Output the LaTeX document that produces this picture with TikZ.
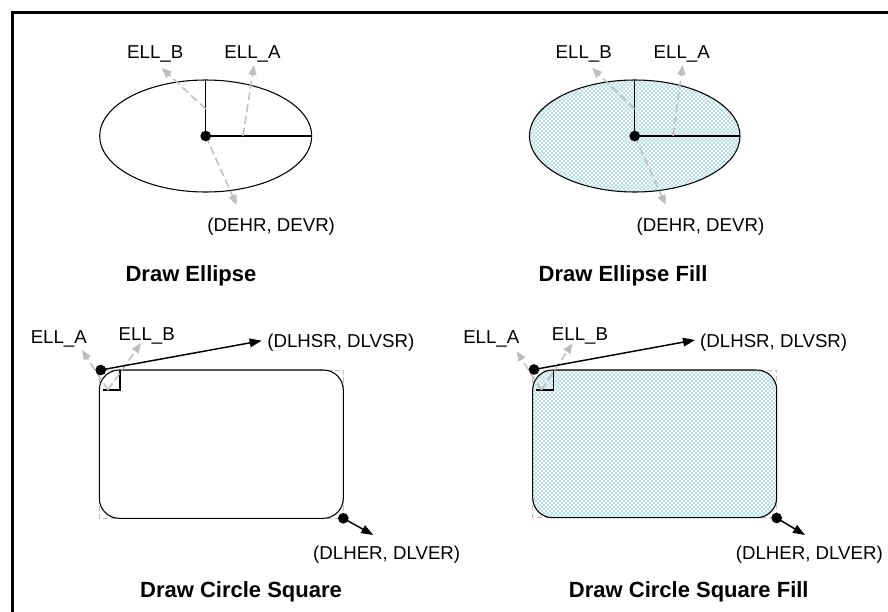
\documentclass[tikz,border=0pt]{standalone}
\usepackage{fontspec}
\setmainfont{Liberation Sans}
\usetikzlibrary{arrows.meta,patterns}
\definecolor{hatchbase}{RGB}{180,222,228}
\definecolor{guide}{RGB}{190,190,190}
\begin{document}
\begin{tikzpicture}[x=0.75pt,y=-0.75pt,
  lbl/.style={font=\fontsize{14}{16}\selectfont, inner sep=0pt, anchor=base},
  ttl/.style={font=\fontsize{16.5}{20}\selectfont\bfseries, inner sep=0pt, anchor=base},
  shapeline/.style={draw=black, line width=0.8pt},
  axisline/.style={draw=black, line width=1.1pt},
  guidearrow/.style={draw=guide, line width=1.1pt, dash pattern=on 6pt off 3pt, -{Triangle[length=7.5pt,width=6pt]}},
  ptrarrow/.style={draw=black, line width=1.1pt, -{Triangle[length=9pt,width=6.5pt]}},
  bboxline/.style={draw=guide, line width=0.6pt, dash pattern=on 4pt off 2pt},
  hatched/.style={fill=hatchbase, postaction={pattern=north east lines, pattern color=white}, postaction={pattern=north west lines, pattern color=white}},
  hdot/.style={circle, fill=black, inner sep=0pt, minimum size=8pt}
]
\path[use as bounding box, clip] (0,0) rectangle (888,611);
\fill[white] (0,0) rectangle (888,611);
% frame
\draw[line width=2.25pt] (12.3,12.3) rectangle (930,650);

% ===== Top-left: Draw Ellipse =====
\coordinate (tlc) at (205.7,136);
\draw[shapeline] (tlc) ellipse [x radius=106, y radius=56];
\coordinate (tltop) at (205.7,80);
\coordinate (tlright) at (311.7,136);
\draw[axisline] (tlc) -- (tltop);
\draw[axisline] (tlc) -- (tlright);
\coordinate (tlbs) at (205.7,109);
\coordinate (tlbt) at (161.7,68);
\coordinate (tlas) at (243,136);
\coordinate (tlat) at (254,65);
\coordinate (tldt) at (236.7,205);
\draw[guidearrow] (tlbs) -- (tlbt);
\draw[guidearrow] (tlas) -- (tlat);
\draw[guidearrow] (tlc) -- (tldt);
\node[hdot] (tldot) at (tlc) {};
\node[lbl] (tlellb) at (155.2,58.3) {ELL\_B};
\node[lbl] (tlella) at (252.5,58.3) {ELL\_A};
\node[lbl] (tldehr) at (271.2,231.7) {(DEHR, DEVR)};
\node[ttl] (tltitle) at (191,281) {Draw Ellipse};

% ===== Top-right: Draw Ellipse Fill =====
\coordinate (trc) at (634.7,136);
\path[hatched] (trc) ellipse [x radius=105.3, y radius=56];
\draw[shapeline] (trc) ellipse [x radius=105.3, y radius=56];
\coordinate (trtop) at (634.7,80);
\coordinate (trright) at (740,136);
\draw[axisline] (trc) -- (trtop);
\draw[axisline] (trc) -- (trright);
\coordinate (trbs) at (634.7,109);
\coordinate (trbt) at (592,68);
\coordinate (tras) at (673,136);
\coordinate (trat) at (682.7,65);
\coordinate (trdt) at (665.7,205);
\draw[guidearrow] (trbs) -- (trbt);
\draw[guidearrow] (tras) -- (trat);
\draw[guidearrow] (trc) -- (trdt);
\node[hdot] (trdot) at (trc) {};
\node[lbl] (trellb) at (583.7,58.3) {ELL\_B};
\node[lbl] (trella) at (681.7,58.3) {ELL\_A};
\node[lbl] (trdehr) at (700.5,231.7) {(DEHR, DEVR)};
\node[ttl] (trtitle) at (623,281) {Draw Ellipse Fill};

% ===== Bottom-left: Draw Circle Square =====
\draw[bboxline] (99.3,370) rectangle (343.3,518.3);
\draw[shapeline, rounded corners=15pt] (99.3,370) rectangle (343.3,518.3);
\draw[line width=0.8pt] (120,370) -- (120,390) -- (103,390);
\coordinate (blgs) at (108,390);
\coordinate (blat) at (82,350);
\coordinate (blbt) at (141,343);
\draw[guidearrow] (blgs) -- (blat);
\draw[guidearrow] (blgs) -- (blbt);
\node[hdot] (bldot1) at (100.7,370) {};
\node[hdot] (bldot2) at (343.3,518.3) {};
\coordinate (blst) at (261.7,340.7);
\coordinate (blet) at (373.3,535);
\draw[ptrarrow] (bldot1.center) -- (blst);
\draw[ptrarrow] (bldot2.center) -- (blet);
\node[lbl] (blella) at (58.8,343.3) {ELL\_A};
\node[lbl] (blellb) at (146.7,340) {ELL\_B};
\node[lbl] (bldlhsr) at (340.8,347.3) {(DLHSR, DLVSR)};
\node[lbl] (bldlher) at (386.7,559.3) {(DLHER, DLVER)};
\node[ttl] (bltitle) at (241,597.7) {Draw Circle Square};

% ===== Bottom-right: Draw Circle Square Fill =====
\path[hatched, rounded corners=15pt] (532.7,370) rectangle (776.7,517.7);
\draw[bboxline] (532.7,370) rectangle (776.7,517.7);
\draw[shapeline, rounded corners=15pt] (532.7,370) rectangle (776.7,517.7);
\draw[line width=0.8pt] (553.4,370) -- (553.4,390) -- (536.4,390);
\coordinate (brgs) at (541.4,390);
\coordinate (brat) at (516.5,351);
\coordinate (brbt) at (572.5,343.3);
\draw[guidearrow] (brgs) -- (brat);
\draw[guidearrow] (brgs) -- (brbt);
\node[hdot] (brdot1) at (534,369.5) {};
\node[hdot] (brdot2) at (776.7,518) {};
\coordinate (brst) at (695,340);
\coordinate (bret) at (805,535);
\draw[ptrarrow] (brdot1.center) -- (brst);
\draw[ptrarrow] (brdot2.center) -- (bret);
\node[lbl] (brella) at (491.3,343.3) {ELL\_A};
\node[lbl] (brellb) at (580,340) {ELL\_B};
\node[lbl] (brdlhsr) at (773.7,347) {(DLHSR, DLVSR)};
\node[lbl] (brdlher) at (809.3,559.3) {(DLHER, DLVER)};
\node[ttl] (brtitle) at (688.8,597.7) {Draw Circle Square Fill};
\end{tikzpicture}
\end{document}
